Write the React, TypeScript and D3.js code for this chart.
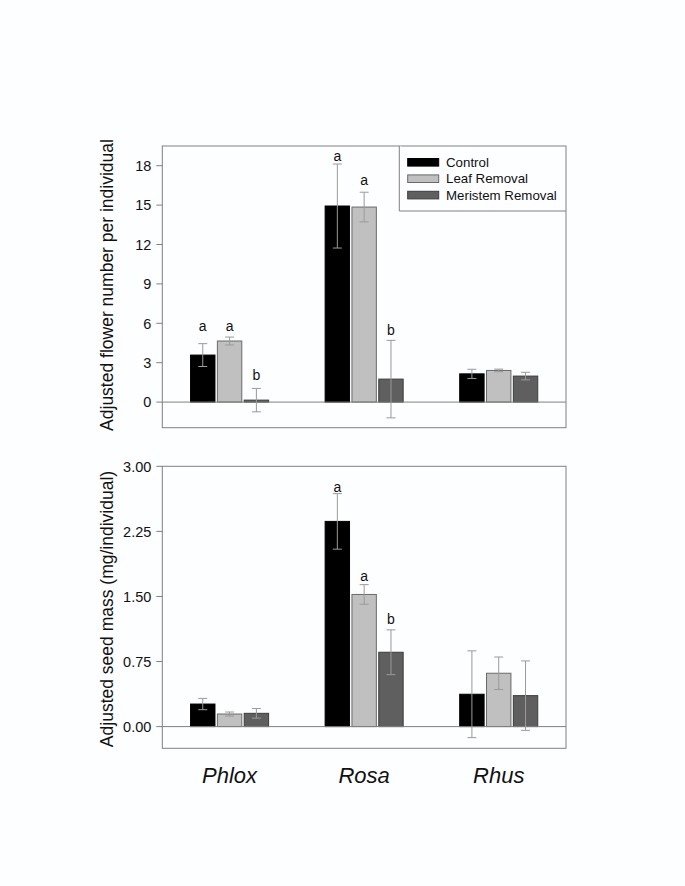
import React from "react";
import * as d3 from "d3";

const categories = ["Phlox", "Rosa", "Rhus"];
const series = ["Control", "Leaf Removal", "Meristem Removal"];

// Top panel: adjusted flower number per individual
const flowerMean = [
  [3.58, 14.93, 2.15],
  [4.65, 14.85, 2.41],
  [0.15, 1.75, 1.98],
];
const flowerErr = [
  [0.87, 3.2, 0.35],
  [0.3, 1.13, 0.1],
  [0.89, 2.95, 0.29],
];
const flowerLetters = [
  ["a", "a", ""],
  ["a", "a", ""],
  ["b", "b", ""],
];
const flowerLetterY = [
  [5.38, 18.32, 0],
  [5.38, 16.55, 0],
  [1.65, 5.13, 0],
];
const flowerTicks = [0, 3, 6, 9, 12, 15, 18];
const flowerDomain = [-1.95, 19.5];

// Bottom panel: adjusted seed mass (mg/individual)
const seedMean = [
  [0.26, 2.365, 0.373],
  [0.145, 1.523, 0.615],
  [0.153, 0.857, 0.357],
];
const seedErr = [
  [0.065, 0.32, 0.5],
  [0.023, 0.113, 0.187],
  [0.055, 0.258, 0.4],
];
const seedLetters = [
  ["", "a", ""],
  ["", "a", ""],
  ["", "b", ""],
];
const seedLetterY = [
  [0, 2.707, 0],
  [0, 1.676, 0],
  [0, 1.177, 0],
];
const seedTicks = [0, 0.75, 1.5, 2.25, 3.0];
const seedDomain = [-0.25, 3.0];

const fills = ["#000000", "#c0c0c0", "#5f5f5f"];
const strokes = ["#000000", "#6a6a6a", "#3c3c3c"];
const frameColor = "#808080";
const errColor = "#9a9a9a";
const FONT = "'Liberation Sans', Arial, Helvetica, sans-serif";

const W = 685;
const H = 886;
const left = 162.3;
const right = 566;

const x = d3.scaleBand<string>().domain(categories).range([left, right]).padding(0);
const bw = x.bandwidth();
const xi = d3
  .scaleBand<string>()
  .domain(series)
  .range([0.21 * bw, 0.79 * bw])
  .paddingInner(0.09)
  .paddingOuter(0);

type PanelProps = {
  top: number;
  bottom: number;
  domain: number[];
  ticks: number[];
  fmt: (v: number) => string;
  mean: number[][];
  err: number[][];
  letters: string[][];
  letterY: number[][];
  title: string;
  titleY: number;
  legend?: boolean;
};

function Panel(p: PanelProps) {
  const y = d3.scaleLinear().domain(p.domain).range([p.bottom, p.top]);
  const capHalf = 4.5;
  return (
    <g>
      {series.map((s, si) =>
        categories.map((c, ci) => {
          const v = p.mean[si][ci];
          const x0 = (x(c) as number) + (xi(s) as number);
          const yv = y(v);
          const y0 = y(0);
          return (
            <rect
              key={`b-${si}-${ci}`}
              x={x0}
              y={Math.min(yv, y0)}
              width={xi.bandwidth()}
              height={Math.abs(y0 - yv)}
              fill={fills[si]}
              stroke={strokes[si]}
              strokeWidth={1}
            />
          );
        })
      )}
      <line x1={left} x2={right} y1={y(0)} y2={y(0)} stroke={frameColor} strokeWidth={1} />
      {series.map((s, si) =>
        categories.map((c, ci) => {
          const v = p.mean[si][ci];
          const e = p.err[si][ci];
          const cx = (x(c) as number) + (xi(s) as number) + xi.bandwidth() / 2;
          const yHi = y(v + e);
          const yLo = y(v - e);
          return (
            <g key={`e-${si}-${ci}`} stroke={errColor} strokeWidth={1}>
              <line x1={cx} x2={cx} y1={yHi} y2={yLo} />
              <line x1={cx - capHalf} x2={cx + capHalf} y1={yHi} y2={yHi} />
              <line x1={cx - capHalf} x2={cx + capHalf} y1={yLo} y2={yLo} />
            </g>
          );
        })
      )}
      {series.map((s, si) =>
        categories.map((c, ci) => {
          const l = p.letters[si][ci];
          if (!l) return null;
          const cx = (x(c) as number) + (xi(s) as number) + xi.bandwidth() / 2;
          return (
            <text
              key={`l-${si}-${ci}`}
              x={cx}
              y={y(p.letterY[si][ci])}
              textAnchor="middle"
              fontFamily={FONT}
              fontSize={14}
              fill="#111"
            >
              {l}
            </text>
          );
        })
      )}
      <rect
        x={left}
        y={p.top}
        width={right - left}
        height={p.bottom - p.top}
        fill="none"
        stroke={frameColor}
        strokeWidth={1}
      />
      {p.ticks.map((t) => (
        <g key={`t-${t}`}>
          <line x1={left - 6} x2={left} y1={y(t)} y2={y(t)} stroke={frameColor} strokeWidth={1} />
          <text
            x={left - 11}
            y={y(t)}
            dy="0.36em"
            textAnchor="end"
            fontFamily={FONT}
            fontSize={14.5}
            fill="#111"
          >
            {p.fmt(t)}
          </text>
        </g>
      ))}
      <text
        transform={`translate(113, ${p.titleY}) rotate(-90)`}
        textAnchor="middle"
        fontFamily={FONT}
        fontSize={17.5}
        fill="#111"
      >
        {p.title}
      </text>
      {p.legend && (
        <g>
          <path
            d={`M399.3,${p.top} V211 H${right}`}
            fill="#fdfeff"
            stroke={frameColor}
            strokeWidth={1}
          />
          {series.map((s, si) => {
            const cy = p.top + 16.3 + si * 16.4;
            return (
              <g key={`lg-${si}`}>
                <rect
                  x={407.7}
                  y={cy - 3.8}
                  width={31}
                  height={7.6}
                  fill={fills[si]}
                  stroke={strokes[si]}
                  strokeWidth={1}
                />
                <text
                  x={446}
                  y={cy}
                  dy="0.36em"
                  fontFamily={FONT}
                  fontSize={13.3}
                  fill="#111"
                >
                  {s}
                </text>
              </g>
            );
          })}
        </g>
      )}
    </g>
  );
}

export default function App() {
  return (
    <svg
      width={W}
      height={H}
      viewBox={`0 0 ${W} ${H}`}
      style={{ position: "absolute", left: 0, top: 0, display: "block" }}
    >
      <rect x={0} y={0} width={W} height={H} fill="#fdfeff" />
      <Panel
        top={146}
        bottom={427.7}
        domain={flowerDomain}
        ticks={flowerTicks}
        fmt={(v) => d3.format("d")(v)}
        mean={flowerMean}
        err={flowerErr}
        letters={flowerLetters}
        letterY={flowerLetterY}
        title="Adjusted flower number per individual"
        titleY={285}
        legend
      />
      <Panel
        top={466.3}
        bottom={748.3}
        domain={seedDomain}
        ticks={seedTicks}
        fmt={(v) => d3.format(".2f")(v)}
        mean={seedMean}
        err={seedErr}
        letters={seedLetters}
        letterY={seedLetterY}
        title="Adjusted seed mass (mg/individual)"
        titleY={609}
      />
      {categories.map((c) => (
        <text
          key={`c-${c}`}
          x={(x(c) as number) + bw / 2}
          y={783}
          textAnchor="middle"
          fontFamily={FONT}
          fontStyle="italic"
          fontSize={22}
          fill="#111"
        >
          {c}
        </text>
      ))}
    </svg>
  );
}
